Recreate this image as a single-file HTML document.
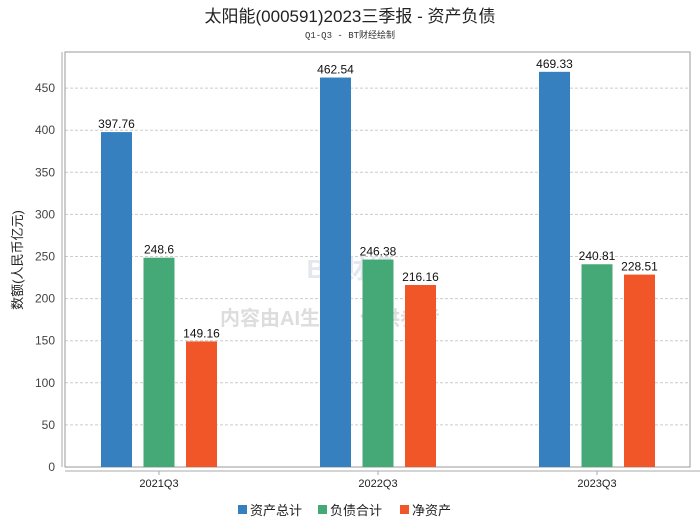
<!DOCTYPE html>
<html><head><meta charset="utf-8"><style>
body{margin:0;background:#fff;width:700px;height:524px;overflow:hidden;font-family:"Liberation Sans","Noto Sans CJK SC",sans-serif}
</style></head><body>
<svg width="700" height="524" xmlns="http://www.w3.org/2000/svg">
<text x="350" y="22" text-anchor="middle" font-size="17" fill="#222">太阳能(000591)2023三季报 - 资产负债</text>
<text x="350" y="38" text-anchor="middle" font-size="9" fill="#333" font-family="Liberation Mono,Noto Sans CJK SC,monospace">Q1-Q3 - BT财经绘制</text>
<g id="grid"></g>
<rect x="65" y="52" width="625" height="415" fill="none" stroke="#999"/>
<line x1="62" y1="52" x2="62" y2="467" stroke="#aaa"/>
<line x1="65" y1="471" x2="700" y2="471" stroke="#aaa"/>
<text x="330" y="325" text-anchor="middle" font-size="20" fill="#ddd" font-weight="bold">内容由AI生成，仅供参考</text>
<text x="350" y="278" text-anchor="middle" font-size="26" fill="#e4e8ee" font-weight="bold">BT财经</text>
<g id="bars"></g>
<g id="axis"></g>
<text transform="translate(22,260) rotate(-90)" text-anchor="middle" font-size="13" fill="#222">数额(人民币亿元)</text>
<g id="legend"></g>
</svg>
<script>
const categories=["2021Q3","2022Q3","2023Q3"];
const seriesNames=["资产总计","负债合计","净资产"];
const assets=[397.76,462.54,469.33];
const liabilities=[248.6,246.38,240.81];
const equity=[149.16,216.16,228.51];
const yTicks=[0,50,100,150,200,250,300,350,400,450];
const colors=["#3680bf","#45a977","#f15629"];
const ns="http://www.w3.org/2000/svg";
const y=v=>467-v*(42.1/50);
const xc=i=>159+i*219;
function mk(t,a,p){const e=document.createElementNS(ns,t);for(const k in a)e.setAttribute(k,a[k]);p.appendChild(e);return e;}
const grid=document.getElementById('grid'),axis=document.getElementById('axis'),bars=document.getElementById('bars'),leg=document.getElementById('legend');
yTicks.forEach(v=>{
 if(v>0){const l=mk('line',{x1:65,x2:690,y1:y(v),y2:y(v),stroke:'#ccc','stroke-dasharray':'3,2'},grid);
 
 }
 const t=mk('text',{x:55,y:y(v)+4,'text-anchor':'end','font-size':12,fill:'#444'},axis);t.textContent=v;
 
 
});
categories.forEach((c,i)=>{
 const t=mk('text',{x:xc(i),y:487,'text-anchor':'middle','font-size':11,fill:'#222'},axis);t.textContent=c;
 
 
 mk('line',{x1:xc(i),x2:xc(i),y1:471,y2:475,stroke:'#aaa'},axis);
});
[assets,liabilities,equity].forEach((s,j)=>{
 s.forEach((v,i)=>{
  const cx=xc(i)+(j-1)*42.5;
  const r=mk('rect',{x:cx-15.5,y:y(v),width:31,height:467-y(v),fill:colors[j]},bars);
  
  
  const t=mk('text',{x:cx,y:y(v)-4,'text-anchor':'middle','font-size':12,fill:'#111'},bars);t.textContent=v;
  
  
 });
});
const lx=[238,318,400];
seriesNames.forEach((n,j)=>{
 const g=mk('g',{},leg);
 
 
 mk('rect',{x:lx[j],y:505,width:9,height:9,fill:colors[j]},g);
 const t=mk('text',{x:lx[j]+12,y:515,'font-size':13,fill:'#222'},g);t.textContent=n;
});
</script>
</body></html>
